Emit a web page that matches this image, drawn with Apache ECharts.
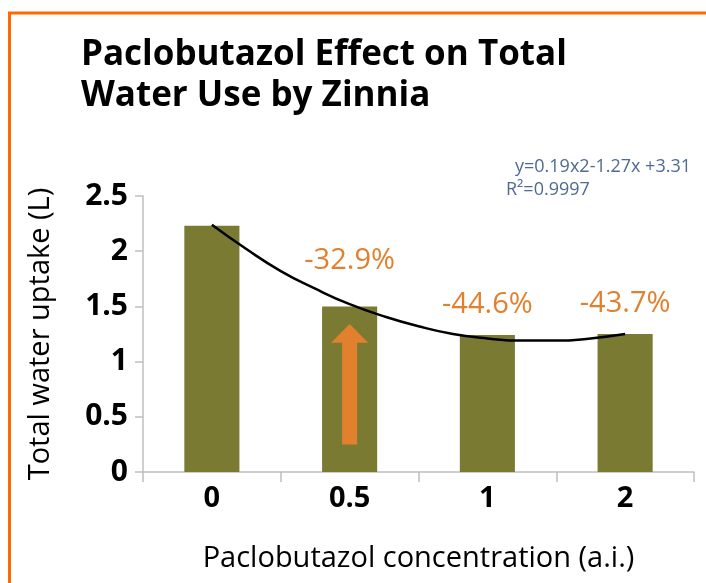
<!DOCTYPE html>
<html>

<head>
    <meta charset="utf-8">
    <title>Paclobutazol Effect on Total Water Use by Zinnia</title>
    <script src="https://cdn.jsdelivr.net/npm/echarts@6/dist/echarts.min.js"></script>
    <style>
        html, body { margin: 0; padding: 0; background: #fff; }
    </style>
</head>

<body>
    <div id="main" style="width: 706px;height:583px;"></div>
</body>

</html>

<script type="text/javascript">
    // data
    var categories = ['0', '0.5', '1', '2'];
    var waterUse = [2.23, 1.50, 1.24, 1.25];
    var pctLabels = ['', '-32.9%', '-44.6%', '-43.7%'];
    var pctDistance = [0, 31, 16, 16];
    // trend curve, points (x = category index)
    var trendX = [0, 0.25, 0.5, 0.75, 1, 1.25, 1.5, 1.75, 2, 2.25, 2.5, 2.75, 3];
    var trendY = [2.24, 2.02, 1.82, 1.66, 1.52, 1.41, 1.32, 1.25, 1.21, 1.19, 1.19, 1.21, 1.25];
    var yTicks = [0, 0.5, 1, 1.5, 2, 2.5];
    // orange arrow inside the 0.5 bar (from / to in axis units)
    var arrowCat = 1;
    var arrowFrom = 0.25;
    var arrowTo = 1.34;
    var arrowHeadBase = 1.17;

    var font = '"Open Sans", "Noto Sans", sans-serif';
    var orange = '#e2812d';

    var myChart = echarts.init(document.getElementById('main'));

    var barData = waterUse.map(function (v, i) {
        return {
            value: v,
            label: {
                show: pctLabels[i] !== '',
                formatter: pctLabels[i],
                distance: pctDistance[i]
            }
        };
    });

    var option = {
        backgroundColor: '#fff',
        animation: false,
        textStyle: { fontFamily: font },
        title: {
            text: 'Paclobutazol Effect on Total\nWater Use by Zinnia',
            left: 76,
            top: 30,
            textStyle: {
                fontFamily: font,
                fontSize: 35,
                fontWeight: 'bold',
                color: '#000',
                lineHeight: 41
            }
        },
        grid: {
            left: 143,
            right: 12,
            top: 196,
            bottom: 111
        },
        xAxis: [{
            type: 'category',
            data: categories,
            name: 'Paclobutazol concentration (a.i.)',
            nameLocation: 'middle',
            nameGap: 72,
            nameTextStyle: { fontSize: 29, color: '#000', fontFamily: font },
            axisLine: { lineStyle: { color: '#bfbfbf', width: 1.5 } },
            axisTick: { show: true, length: 10, lineStyle: { color: '#bfbfbf', width: 1.5 } },
            axisLabel: { fontSize: 29, fontWeight: 'bold', color: '#000', margin: 12, fontFamily: font }
        }, {
            type: 'value',
            min: -0.5,
            max: 3.5,
            show: false
        }],
        yAxis: {
            type: 'value',
            min: 0,
            max: 2.5,
            interval: 0.5,
            name: 'Total water uptake (L)',
            nameLocation: 'middle',
            nameGap: 88,
            nameTextStyle: { fontSize: 29, color: '#000', fontFamily: font },
            axisLine: { show: true, onZero: false, lineStyle: { color: '#bfbfbf', width: 1.5 } },
            axisTick: { show: true, length: 8, lineStyle: { color: '#bfbfbf', width: 1.5 } },
            splitLine: { show: false },
            axisLabel: {
                fontSize: 30,
                fontWeight: 'bold',
                color: '#000',
                margin: 15,
                fontFamily: font,
                formatter: function (v) {
                    return yTicks.indexOf(v) >= 0 ? String(v) : '';
                }
            }
        },
        series: [{
            name: 'Total water uptake',
            type: 'bar',
            data: barData,
            barWidth: '40%',
            itemStyle: { color: '#7a7a33' },
            label: {
                position: 'top',
                color: orange,
                fontSize: 29,
                fontFamily: font
            }
        }, {
            name: 'trend',
            type: 'line',
            xAxisIndex: 1,
            data: trendX.map(function (x, i) { return [x, trendY[i]]; }),
            smooth: true,
            showSymbol: false,
            lineStyle: { color: '#000', width: 2.5 },
            z: 5
        }],
        graphic: [{
            id: 'frame',
            type: 'rect',
            shape: { x: 9.5, y: 13, width: 720, height: 600 },
            style: { fill: 'none', stroke: '#ff6a00', lineWidth: 3 },
            silent: true
        }, {
            id: 'eq',
            type: 'text',
            left: 515,
            top: 158,
            style: {
                text: 'y=0.19x2-1.27x +3.31',
                fill: '#4f6a94',
                font: '18px ' + font
            }
        }, {
            id: 'r2',
            type: 'text',
            left: 506,
            top: 181,
            style: {
                text: 'R\u00b2=0.9997',
                fill: '#4f6a94',
                font: '18px ' + font
            }
        }]
    };

    myChart.setOption(option);

    // arrow placed from axis values
    var tip = myChart.convertToPixel({ xAxisIndex: 0, yAxisIndex: 0 }, [arrowCat, arrowTo]);
    var base = myChart.convertToPixel({ xAxisIndex: 0, yAxisIndex: 0 }, [arrowCat, arrowFrom]);
    var headY = myChart.convertToPixel({ yAxisIndex: 0 }, arrowHeadBase);
    var cx = tip[0];
    option.graphic.push({
        id: 'arrow',
        type: 'polygon',
        shape: {
            points: [
                [cx - 7.5, base[1]], [cx + 7.5, base[1]], [cx + 7.5, headY],
                [cx + 18.5, headY], [cx, tip[1]], [cx - 18.5, headY], [cx - 7.5, headY]
            ]
        },
        style: { fill: orange },
        z: 10
    });
    myChart.setOption({ graphic: option.graphic });
</script>
